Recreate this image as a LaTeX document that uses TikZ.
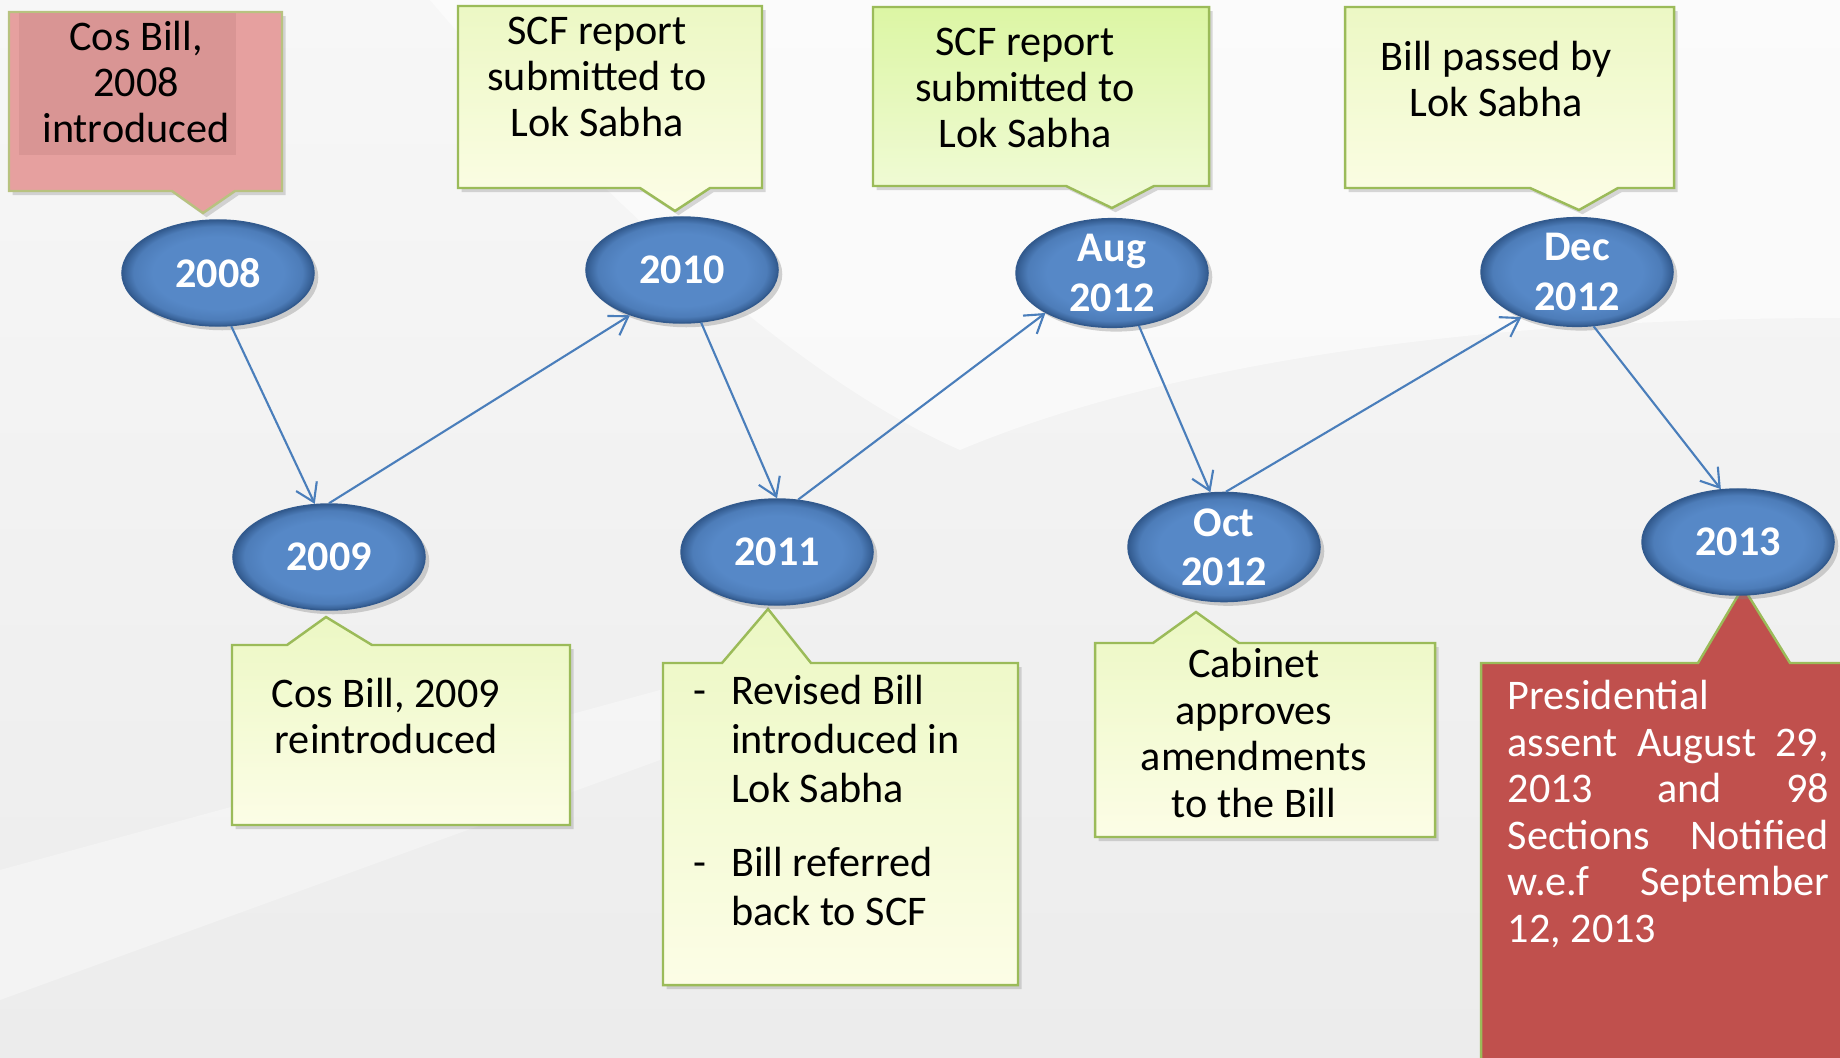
\documentclass[tikz,border=0pt]{standalone}
\usepackage{fontspec}
\setmainfont{Carlito}
\usetikzlibrary{arrows.meta, shapes.geometric, shadows}
\definecolor{ellmid}{RGB}{86, 136, 199}
\definecolor{ellrim}{RGB}{50, 90, 142}
\definecolor{linkblue}{RGB}{74, 126, 187}
\definecolor{callborder}{RGB}{155, 187, 89}
\definecolor{calltop}{RGB}{236, 248, 196}
\definecolor{callbottom}{RGB}{252, 253, 230}
\definecolor{augtop}{RGB}{220, 246, 164}
\definecolor{augbottom}{RGB}{242, 251, 218}
\definecolor{pinkfill}{RGB}{230, 160, 159}
\definecolor{pinktext}{RGB}{217, 149, 148}
\definecolor{pinkborder}{RGB}{184, 194, 128}
\definecolor{redfill}{RGB}{192, 80, 77}
\definecolor{bgtop}{RGB}{247, 247, 247}
\definecolor{bgbottom}{RGB}{236, 236, 236}
\pgfdeclareradialshading{ellbevel}{\pgfpoint{0bp}{0bp}}{color(0bp)=(ellmid); color(17bp)=(ellmid); color(22bp)=(ellmid!75!ellrim); color(25bp)=(ellrim); color(50bp)=(ellrim)}

\begin{document}
\begin{tikzpicture}[
      x=0.01cm, y=-0.01cm,
      font=\fontsize{12}{13.2}\selectfont,
      year/.style={ellipse, shade, shading=ellbevel, draw=ellrim, line width=0.4pt,
        drop shadow={shadow xshift=1.2pt, shadow yshift=-1.2pt, opacity=0.35},
        minimum width=1.92cm, minimum height=1.06cm, inner sep=0pt, align=center,
        text=white, font=\fontsize{12}{14}\selectfont\bfseries},
      boxbase/.style={line width=0.7pt, drop shadow={shadow xshift=1pt, shadow yshift=-1.2pt, opacity=0.3}},
      callbox/.style={boxbase, draw=callborder, top color=calltop, bottom color=callbottom},
      augbox/.style={boxbase, draw=callborder, top color=augtop, bottom color=augbottom},
      pinkbox/.style={boxbase, draw=pinkborder, fill=pinkfill},
      redbox/.style={boxbase, draw=callborder, fill=redfill},
      note/.style={align=center, inner sep=0pt},
      rednote/.style={inner sep=0pt, text width=3.21cm, align=justify, text=white},
      link/.style={draw=linkblue, line width=0.6pt, -{Straight Barb[length=5pt, width=6.5pt]}}
    ]
      \useasboundingbox (0,0) rectangle (1840,1057);
      \clip (0,0) rectangle (1840,1057);

      % background
      \shade[top color=bgtop, bottom color=bgbottom] (0,0) rectangle (1840,1057);
      \fill[white, opacity=0.55] (430,0) -- (1840,0) -- (1840,318) .. controls (1450,318) and (1150,370) .. (960,450) .. controls (800,380) and (600,200) .. (430,0) -- cycle;
      \fill[white, opacity=0.35] (0,870) -- (660,690) -- (660,760) -- (0,1000) -- cycle;

      % callouts above the time line
      \path[pinkbox] (9,12) -- (282,12) -- (282,191) -- (235,191) -- (203,213) -- (172,191) -- (9,191) -- cycle;
      \fill[pinktext] (19,13) rectangle (236,155);
      \path[callbox] (458,6) -- (762,6) -- (762,188) -- (710,188) -- (675,211) -- (640,188) -- (458,188) -- cycle;
      \path[augbox] (873,7) -- (1209,7) -- (1209,186) -- (1154,186) -- (1112,208) -- (1066,186) -- (873,186) -- cycle;
      \path[callbox] (1345,7) -- (1674,7) -- (1674,188) -- (1618,188) -- (1579,210) -- (1530,188) -- (1345,188) -- cycle;

      % callouts below the time line
      \path[callbox] (232,645) -- (287,645) -- (326,617) -- (372,645) -- (570,645) -- (570,825) -- (232,825) -- cycle;
      \path[callbox] (663,663) -- (722,663) -- (768,609) -- (811,663) -- (1018,663) -- (1018,985) -- (663,985) -- cycle;
      \path[callbox] (1095,643) -- (1153,643) -- (1196,612) -- (1239,643) -- (1435,643) -- (1435,837) -- (1095,837) -- cycle;
      \path[redbox] (1481,663) -- (1698,663) -- (1743,587) -- (1790,663) -- (1900,663) -- (1900,1100) -- (1481,1100) -- cycle;

      % years
      \node[year] (n2008) at (218,273) {2008};
      \node[year] (n2009) at (329,557) {2009};
      \node[year] (n2010) at (682,270) {2010};
      \node[year] (n2011) at (777,552) {2011};
      \node[year] (nAug) at (1112,273) {Aug\\2012};
      \node[year] (nOct) at (1224,547) {Oct\\2012};
      \node[year] (nDec) at (1577,272) {Dec\\2012};
      \node[year] (n2013) at (1738,542) {2013};

      % zigzag links
      \draw[link] (n2008.-76) -- (n2009.105);
      \draw[link] (n2009.90) -- (n2010.221);
      \draw[link] (n2010.-70) -- (n2011.90);
      \draw[link] (n2011.68) -- (nAug.211);
      \draw[link] (nAug.-63) -- (nOct.104);
      \draw[link] (nOct.88) -- (nDec.219);
      \draw[link] (nDec.-73) -- (n2013.108);

      % callout texts
      \node[note] (t2008) at (136,82) {Cos Bill,\\2008\\introduced};
      \node[note] (t2010) at (597,77) {SCF report\\submitted to\\Lok Sabha};
      \node[note] (tAug) at (1025,88) {SCF report\\submitted to\\Lok Sabha};
      \node[note] (tDec) at (1496,79) {Bill passed by\\Lok Sabha};
      \node[note] (t2009) at (386,716) {Cos Bill, 2009\\reintroduced};
      \node[note, anchor=west, font=\fontsize{12}{14}\selectfont] (t2011) at (693,805) {%
        \begin{tabular}{@{}l@{\hspace{7pt}}l@{}}
          - & Revised Bill\\
            & introduced in\\
            & Lok Sabha\\[7pt]
          - & Bill referred\\
            & back to SCF
        \end{tabular}};
      \node[note] (tOct) at (1254,733) {Cabinet\\approves\\amendments\\to the Bill};
      \node[rednote, anchor=west] (t2013) at (1507,814) {Presidential\\assent August 29,\linebreak 2013 and 98\linebreak Sections Notified\linebreak w.e.f September\linebreak 12, 2013};
    \end{tikzpicture}
\end{document}
